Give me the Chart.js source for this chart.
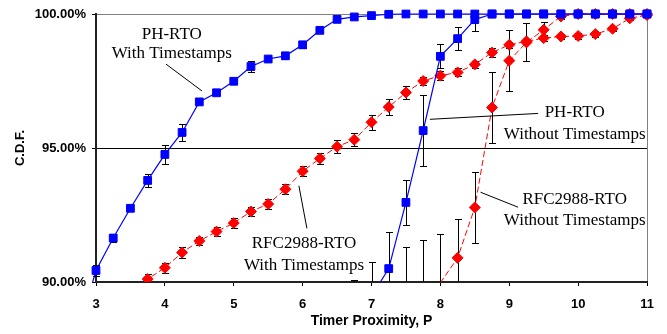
<!DOCTYPE html>
<html><head><meta charset="utf-8">
<script src="https://cdn.jsdelivr.net/npm/chart.js@4.4.0/dist/chart.umd.min.js"></script>
<style>html,body{margin:0;padding:0;background:#fff}canvas{display:block}</style>
</head><body>
<canvas id="c" width="667" height="334"></canvas>
<script>
// Timer proximity P (x categories)
const proximity = [2.75,3,3.25,3.5,3.75,4,4.25,4.5,4.75,5,5.25,5.5,5.75,6,6.25,6.5,6.75,7,7.25,7.5,7.75,8,8.25,8.5,8.75,9,9.25,9.5,9.75,10,10.25,10.5,10.75,11];

// PH-RTO With Timestamps
const phRtoTs = [88.2,90.43,91.64,92.75,93.79,94.76,95.58,96.72,97.06,97.49,98.04,98.32,98.44,98.85,99.39,99.80,99.89,99.94,99.99,100,100,100,100,100,100,100,100,100,100,100,100,100,100,100];
const phRtoTsErr = [0,0.2,0.15,0.08,0.25,0.34,0.33,0.05,0.05,0.06,0.2,0.05,0.12,0.1,0.1,0.05,0,0,0,0,0,0,0,0,0,0,0,0,0,0,0,0,0,0];

// PH-RTO Without Timestamps
const phRtoNoTs = [null,null,null,null,null,null,null,null,null,null,null,null,null,null,null,null,88.8,89.47,90.50,92.97,95.65,98.42,99.08,99.79,100,100,100,100,100,100,100,100,100,100];
const phRtoNoTsErr = [0,0,0,0,0,0,0,0,0,0,0,0,0,0,0,0,1.27,1.28,1.37,0.84,1.31,0.45,0.42,0.44,0,0,0,0,0,0,0,0,0,0];

// RFC2988-RTO With Timestamps
const rfcTs = [null,null,null,89.58,90.11,90.53,91.10,91.53,91.88,92.20,92.63,92.91,93.46,94.13,94.61,95.05,95.31,95.96,96.53,97.07,97.50,97.70,97.82,98.12,98.56,98.85,98.98,99.10,99.16,99.18,99.25,99.45,99.84,99.96];
const rfcTsErr = [0,0,0,0,0.17,0.19,0.19,0.14,0.16,0.19,0.16,0.2,0.19,0.19,0.2,0.25,0.24,0.27,0.28,0.25,0.15,0.17,0.15,0.12,0.17,0.12,0.1,0.1,0.1,0.1,0.1,0.08,0.08,0.05];

// RFC2988-RTO Without Timestamps
const rfcNoTs = [null,null,null,null,null,null,null,null,null,null,null,null,null,null,null,null,null,null,null,89.0,89.8,89.97,90.90,92.78,96.51,98.26,98.94,99.41,99.91,100,100,100,100,100];
const rfcNoTsErr = [0,0,0,0,0,0,0,0,0,0,0,0,0,0,0,0,0,0,0,2.29,1.77,1.81,1.46,1.34,1.31,1.15,0.71,0.3,0.1,0,0,0,0,0];

// Axis tick labels
const xTickValues = [3,4,5,6,7,8,9,10,11];
const yTickValues = [90,95,100];

// Annotation texts
const annotationTexts = [
  ['PH-RTO','With Timestamps'],
  ['PH-RTO','Without Timestamps'],
  ['RFC2988-RTO','With Timestamps'],
  ['RFC2988-RTO','Without Timestamps']
];

function pts(vals, errs){
  return proximity.map((x,i)=>({x:x, y:vals[i], e:errs[i]})).filter(p=>p.y!==null);
}

// annotation placement (data coordinates)
const annotationPlacement = [
  {x:4.10, ys:[99.25,98.51], leader:[[4.016,98.13],[4.538,97.13]]},
  {x:9.95, ys:[96.31,95.49], leader:[[7.848,96.07],[9.419,96.29]]},
  {x:6.02, ys:[91.42,90.63], leader:[[5.946,93.59],[6.062,92.00]]},
  {x:9.95, ys:[93.06,92.28], leader:[[8.583,93.35],[9.129,92.79]]}
];

const errorBarPlugin = {
  id:'errorBars',
  beforeDatasetsDraw(chart){
    const {ctx, chartArea:a, scales:{x,y}} = chart;
    ctx.save();
    ctx.beginPath(); ctx.rect(a.left-5, a.top-2, a.right-a.left+10, a.bottom-a.top+2); ctx.clip();
    ctx.strokeStyle='#000'; ctx.lineWidth=1;
    chart.data.datasets.forEach(ds=>{
      ds.data.forEach(p=>{
        if(!p.e) return;
        const px = Math.round(x.getPixelForValue(p.x))+0.5;
        const yt = Math.round(y.getPixelForValue(p.y+p.e))+0.5;
        const yb = Math.round(y.getPixelForValue(p.y-p.e))+0.5;
        ctx.beginPath();
        ctx.moveTo(px,yt); ctx.lineTo(px,yb);
        ctx.moveTo(px-3.5,yt); ctx.lineTo(px+3.5,yt);
        ctx.moveTo(px-3.5,yb); ctx.lineTo(px+3.5,yb);
        ctx.stroke();
      });
    });
    ctx.restore();
  }
};

const annotationPlugin = {
  id:'annotations',
  afterDatasetsDraw(chart){
    const {ctx, scales:{x,y}} = chart;
    ctx.save();
    ctx.fillStyle='#000'; ctx.strokeStyle='#000'; ctx.lineWidth=1;
    ctx.font='17px "Liberation Serif", "Times New Roman", serif';
    ctx.textAlign='center'; ctx.textBaseline='middle';
    annotationTexts.forEach((lines,i)=>{
      const pl = annotationPlacement[i];
      lines.forEach((t,j)=>ctx.fillText(t, x.getPixelForValue(pl.x), y.getPixelForValue(pl.ys[j])));
      ctx.beginPath();
      ctx.moveTo(x.getPixelForValue(pl.leader[0][0]), y.getPixelForValue(pl.leader[0][1]));
      ctx.lineTo(x.getPixelForValue(pl.leader[1][0]), y.getPixelForValue(pl.leader[1][1]));
      ctx.stroke();
    });
    ctx.restore();
  }
};

Chart.defaults.font.family = '"Liberation Sans", Arial, sans-serif';
Chart.defaults.color = '#000';

const radiusFn = r => ctx => (ctx.raw && ctx.raw.y >= 90) ? r : 0;
const clipBox = {left:6, top:8, right:8, bottom:0};

new Chart(document.getElementById('c'), {
  type:'scatter',
  data:{datasets:[
    {label:'PH-RTO With Timestamps', data:pts(phRtoTs,phRtoTsErr), showLine:true, borderColor:'#0000FF', backgroundColor:'#0000FF', borderWidth:1.2, pointStyle:'rect', pointRadius:radiusFn(5.5), pointBorderWidth:1, clip:clipBox},
    {label:'PH-RTO Without Timestamps', data:pts(phRtoNoTs,phRtoNoTsErr), showLine:true, borderColor:'#0000FF', backgroundColor:'#0000FF', borderWidth:1.2, pointStyle:'rect', pointRadius:radiusFn(5.5), pointBorderWidth:1, clip:clipBox},
    {label:'RFC2988-RTO With Timestamps', data:pts(rfcTs,rfcTsErr), showLine:true, borderColor:'#FF0000', backgroundColor:'#FF0000', borderWidth:1, borderDash:[6,3], pointStyle:'rectRot', pointRadius:radiusFn(5.5), pointBorderWidth:1, clip:clipBox},
    {label:'RFC2988-RTO Without Timestamps', data:pts(rfcNoTs,rfcNoTsErr), showLine:true, borderColor:'#FF0000', backgroundColor:'#FF0000', borderWidth:1, borderDash:[6,3], pointStyle:'rectRot', pointRadius:radiusFn(5.5), pointBorderWidth:1, clip:clipBox}
  ]},
  options:{
    responsive:false, animation:false,
    layout:{padding:{left:0,right:20,top:14,bottom:0}},
    plugins:{legend:{display:false}, tooltip:{enabled:false}},
    scales:{
      x:{type:'linear', min:3, max:11,
        afterBuildTicks: s=>{ s.ticks = xTickValues.map(v=>({value:v})); },
        afterFit: s=>{ s.height = 52; },
        ticks:{font:{size:13, weight:'bold'}, padding:11, callback:v=>String(v)},
        grid:{color:c=> c.tick && c.tick.value===11 ? '#808080' : 'rgba(0,0,0,0)', tickColor:'#000', tickLength:4, lineWidth:1},
        border:{color:'#222', width:2},
        title:{display:true, text:'Timer Proximity, P', font:{size:14, weight:'bold'}, padding:{top:0,bottom:4}}
      },
      y:{type:'linear', min:90, max:100,
        afterBuildTicks: s=>{ s.ticks = yTickValues.map(v=>({value:v})); },
        afterFit: s=>{ s.width = 96; },
        ticks:{font:{size:13, weight:'bold'}, padding:6, callback:v=>v.toFixed(2)+'%'},
        grid:{color:c=> c.tick && c.tick.value===95 ? '#000' : (c.tick && c.tick.value===100 ? '#808080' : 'rgba(0,0,0,0)'), tickColor:'#000', tickLength:4, lineWidth:1},
        border:{color:'#222', width:2},
        title:{display:true, text:'C.D.F.', font:{size:13, weight:'bold'}, padding:{top:13,bottom:0}}
      }
    }
  },
  plugins:[errorBarPlugin, annotationPlugin]
});
</script>
</body></html>
